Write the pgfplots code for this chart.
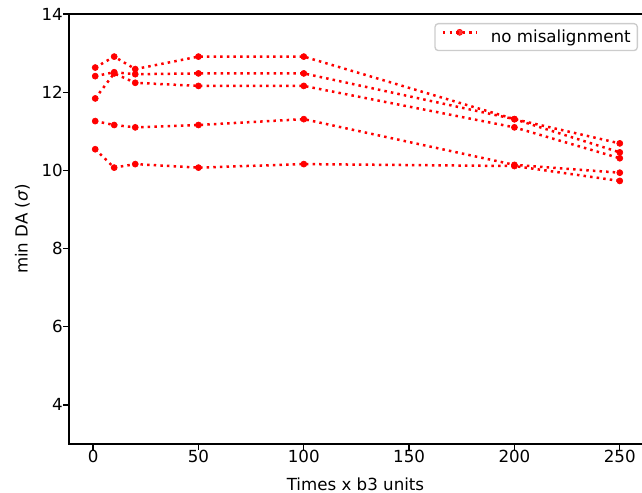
\documentclass[border=0pt]{standalone}
\usepackage{pgfplots}
\pgfplotsset{compat=1.18}
\usepackage{fontspec}
\setmainfont{DejaVu Sans}
\begin{document}
\fontsize{10pt}{12pt}\selectfont
\begin{tikzpicture}
\pgfplotsset{myline/.style={red, line width=1.5pt, dash pattern=on 1.5pt off 2.475pt,
    mark=*, mark size=1.8pt, mark options={solid, fill=red, draw=red, line width=0.4pt}}}
\begin{axis}[
  scale only axis,
  width=346.2pt, height=258pt,
  xmin=-11.45, xmax=262.45,
  ymin=3, ymax=14,
  xtick={0,50,100,150,200,250},
  ytick={4,6,8,10,12,14},
  tick pos=left,
  tick align=outside,
  major tick length=3.5pt,
  tick style={black, line width=0.8pt},
  axis line style={black, line width=0.8pt},
  /pgf/number format/assume math mode=true,
  every tick label/.append style={font=\fontsize{10pt}{12pt}\selectfont, inner sep=0pt},
  every axis x label/.style={at={(axis description cs:0.4965,-0.107)}, anchor=base},
  every axis y label/.style={at={(axis description cs:-0.0719,0.5)}, rotate=90, anchor=base},
  xlabel={Times x b3 units},
  ylabel={min DA (\textit{σ})},
  legend style={
    at={(1,1)}, anchor=north east, xshift=-4.8pt, yshift=-5.4pt,
    draw=black!20, line width=0.8pt, rounded corners=2pt,
    fill=white, fill opacity=0.8, text opacity=1,
    inner xsep=4pt, inner ysep=3.4pt,
    nodes={inner sep=0pt},
    font=\fontsize{10pt}{12pt}\selectfont,
    /tikz/every odd column/.append style={column sep=8pt},
  },
  legend image code/.code={\draw[#1, mark repeat=2, mark phase=2] plot coordinates {(0pt,0.3em) (10pt,0.3em) (20pt,0.3em)};},
]
\addplot[myline] coordinates {(1,12.63) (10,12.91) (20,12.59) (50,12.91) (100,12.91) (200,11.31) (250,10.69)};
\addlegendentry{no misalignment}
\addplot[myline] coordinates {(1,12.41) (10,12.51) (20,12.46) (50,12.48) (100,12.48) (200,11.31) (250,10.46)};
\addplot[myline] coordinates {(1,11.84) (10,12.48) (20,12.24) (50,12.16) (100,12.16) (200,11.10) (250,10.31)};
\addplot[myline] coordinates {(1,11.26) (10,11.16) (20,11.10) (50,11.16) (100,11.31) (200,10.14) (250,9.94)};
\addplot[myline] coordinates {(1,10.54) (10,10.07) (20,10.16) (50,10.07) (100,10.16) (200,10.11) (250,9.73)};
\coordinate (bl) at (rel axis cs:0,0);
\coordinate (tl) at (rel axis cs:0,1);
\end{axis}
\pgfresetboundingbox
\path[use as bounding box] ([xshift=-41.4pt,yshift=-29.4pt]bl) rectangle ([xshift=343.8pt,yshift=8.4pt]tl);
\end{tikzpicture}
\end{document}
